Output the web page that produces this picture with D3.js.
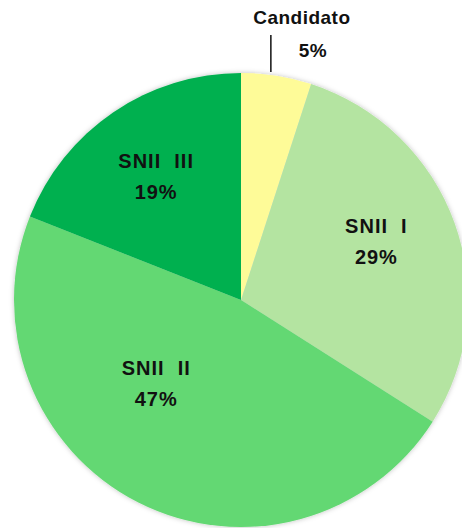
<!DOCTYPE html>
<html>
<head>
<meta charset="utf-8">
<script src="https://cdn.jsdelivr.net/npm/d3@7"></script>
<style>
  body { margin: 0; background: #fff; }
  text { font-family: "Liberation Sans", Arial, sans-serif; font-weight: bold; }
</style>
</head>
<body>
<script>
'use strict'

let width = 462
let height = 528

// slices, clockwise from 12 o'clock
let categories = ["Candidato", "SNII I", "SNII II", "SNII III"]
let shares = [5, 29, 47, 19]
let colors = ["#fefb98", "#b4e4a1", "#63d873", "#06b04f"]

let cx = 241, cy = 300
let radius = 227

let svg = d3.select("body").append("svg")
  .attr("width", width)
  .attr("height", height)

// soft shadow round the pie
let defs = svg.append("defs")
let f = defs.append("filter").attr("id", "glow")
  .attr("x", "-10%").attr("y", "-10%").attr("width", "120%").attr("height", "120%")
f.append("feDropShadow")
  .attr("dx", 0).attr("dy", 0).attr("stdDeviation", 2.5)
  .attr("flood-color", "#000").attr("flood-opacity", 0.25)

let g = svg.append("g").attr("transform", "translate(" + cx + "," + cy + ")")

let pie = d3.pie().sort(null).value(d => d)
let arcs = pie(shares)

let arc = d3.arc().innerRadius(0).outerRadius(radius)

g.append("g").attr("filter", "url(#glow)")
  .selectAll("path")
  .data(arcs)
  .enter()
  .append("path")
  .attr("d", arc)
  .style("fill", (d, i) => colors[i])

// labels inside slices (radius and angle nudges like the original)
let nudge = {
  "SNII I":  { r: 148, a: -0.07 },
  "SNII II": { r: 118, a: 0.33 },
  "SNII III": { r: 151, a: 0 }
}

arcs.forEach(function(d, i) {
  let name = categories[i]
  let pct = shares[i] + "%"
  if (nudge[name]) {
    let n = nudge[name]
    let a = (d.startAngle + d.endAngle) / 2 + n.a
    let x = Math.sin(a) * n.r
    let y = -Math.cos(a) * n.r
    let t = g.append("text")
      .attr("text-anchor", "middle")
      .style("font-size", "20px")
      .style("letter-spacing", "1px")
      .style("fill", "#111")
    t.append("tspan").attr("x", x).attr("y", y - 7).text(name.replace(" ", "\u00a0\u00a0"))
    t.append("tspan").attr("x", x).attr("y", y + 24).text(pct)
  } else {
    // outside label with a leader line
    let a = d.startAngle + (d.endAngle - d.startAngle) * 0.42
    let x0 = Math.sin(a) * radius
    let y0 = -Math.cos(a) * (radius + 1)
    g.append("line")
      .attr("x1", x0).attr("y1", y0 - 2)
      .attr("x2", x0).attr("y2", y0 - 39)
      .style("stroke", "#111").style("stroke-width", 1.5)
    let t = g.append("text")
      .attr("text-anchor", "middle")
      .style("font-size", "19px")
      .style("letter-spacing", "0.5px")
      .style("fill", "#111")
    t.append("tspan").attr("x", x0 + 31).attr("y", y0 - 50).text(name)
    t.append("tspan").attr("x", x0 + 42).attr("y", y0 - 17).text(pct)
  }
})
</script>
</body>
</html>
